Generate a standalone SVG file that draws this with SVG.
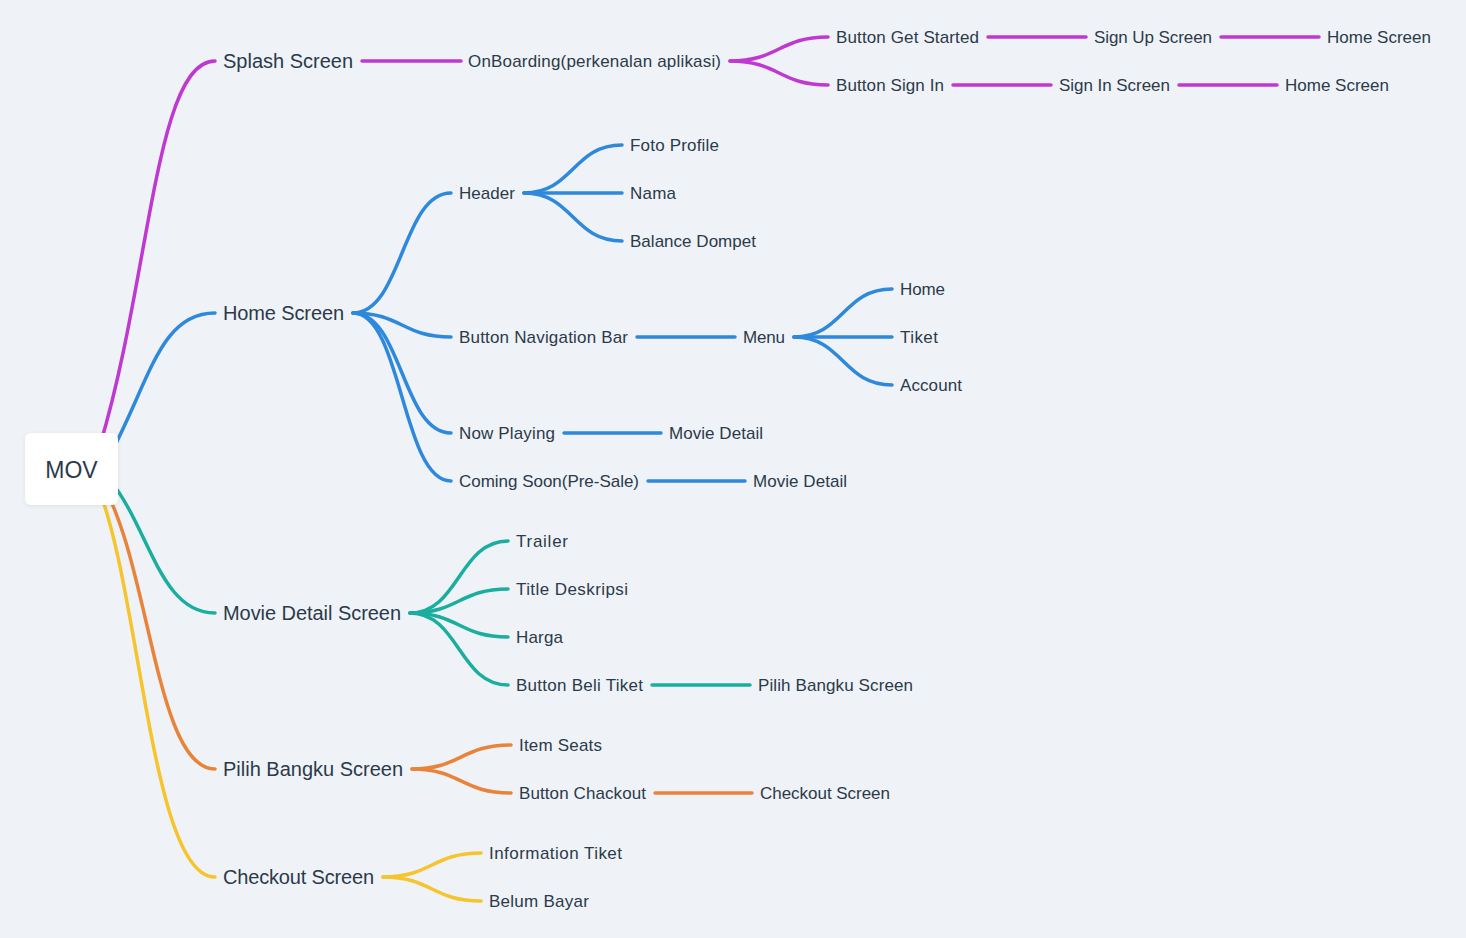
<svg xmlns="http://www.w3.org/2000/svg" width="1466" height="938" viewBox="0 0 1466 938">
<defs>
<filter id="sh" x="-20%" y="-20%" width="140%" height="140%"><feDropShadow dx="0" dy="1" stdDeviation="2" flood-color="#000" flood-opacity="0.08"/></filter>
<style>
.c{fill:none;stroke-width:3.5;stroke-linecap:round}
.p{stroke:#c038d2}.b{stroke:#2e89dc}.t{stroke:#1aae9f}.o{stroke:#ea833a}.y{stroke:#f6c42c}
text{font-family:"Liberation Sans",Arial,sans-serif;fill:#2c3a4a}
.m{font-size:20px}.s{font-size:17px}
</style>
</defs>
<rect width="1466" height="938" fill="#eff3f7"/>
<g id="connectors">
<path class="c p" d="M100,445 C150,280 155,61 215,61"/>
<path class="c b" d="M110,455 C150,380 160,313 215,313"/>
<path class="c t" d="M110,480 C150,530 160,613 215,613"/>
<path class="c o" d="M100,480 C150,560 155,769 215,769"/>
<path class="c y" d="M95,480 C140,580 150,877 215,877"/>
<path class="c p" d="M362,61 H461"/>
<path class="c p" d="M730,61 C779,61 779,37 828,37"/>
<path class="c p" d="M730,61 C779,61 779,85 828,85"/>
<path class="c p" d="M988,37 H1086"/>
<path class="c p" d="M1221,37 H1319"/>
<path class="c p" d="M953,85 H1051"/>
<path class="c p" d="M1179,85 H1277"/>
<path class="c b" d="M353,313 C402,313 402,193 451,193"/>
<path class="c b" d="M353,313 C402,313 402,337 451,337"/>
<path class="c b" d="M353,313 C402,313 402,433 451,433"/>
<path class="c b" d="M353,313 C402,313 402,481 451,481"/>
<path class="c b" d="M524,193 C573,193 573,145 622,145"/>
<path class="c b" d="M524,193 H622"/>
<path class="c b" d="M524,193 C573,193 573,241 622,241"/>
<path class="c b" d="M637,337 H735"/>
<path class="c b" d="M794,337 C843,337 843,289 892,289"/>
<path class="c b" d="M794,337 H892"/>
<path class="c b" d="M794,337 C843,337 843,385 892,385"/>
<path class="c b" d="M564,433 H661"/>
<path class="c b" d="M648,481 H745"/>
<path class="c t" d="M410,613 C459,613 459,541 508,541"/>
<path class="c t" d="M410,613 C459,613 459,589 508,589"/>
<path class="c t" d="M410,613 C459,613 459,637 508,637"/>
<path class="c t" d="M410,613 C459,613 459,685 508,685"/>
<path class="c t" d="M652,685 H750"/>
<path class="c o" d="M412,769 C461,769 461,745 511,745"/>
<path class="c o" d="M412,769 C461,769 461,793 511,793"/>
<path class="c o" d="M655,793 H752"/>
<path class="c y" d="M383,877 C432,877 432,853 481,853"/>
<path class="c y" d="M383,877 C432,877 432,901 481,901"/>
</g>
<g id="root">
<rect x="25" y="433" width="93" height="72" rx="6" fill="#fff" filter="url(#sh)"/>
<text x="71.5" y="477.5" font-size="23" text-anchor="middle">MOV</text>
</g>
<g id="splash"><text class="m" x="223" y="68" textLength="130">Splash Screen</text></g>
<g id="onboarding"><text class="s" x="468" y="67" textLength="253">OnBoarding(perkenalan aplikasi)</text></g>
<g id="btn-get-started"><text class="s" x="836" y="43" textLength="143">Button Get Started</text></g>
<g id="signup"><text class="s" x="1094" y="43" textLength="118">Sign Up Screen</text></g>
<g id="home1"><text class="s" x="1327" y="43" textLength="104">Home Screen</text></g>
<g id="btn-sign-in"><text class="s" x="836" y="91" textLength="108">Button Sign In</text></g>
<g id="signin"><text class="s" x="1059" y="91" textLength="111">Sign In Screen</text></g>
<g id="home2"><text class="s" x="1285" y="91" textLength="104">Home Screen</text></g>
<g id="home"><text class="m" x="223" y="320" textLength="121">Home Screen</text></g>
<g id="header"><text class="s" x="459" y="199" textLength="56">Header</text></g>
<g id="foto"><text class="s" x="630" y="151" textLength="89">Foto Profile</text></g>
<g id="nama"><text class="s" x="630" y="199" textLength="46">Nama</text></g>
<g id="balance"><text class="s" x="630" y="247" textLength="126">Balance Dompet</text></g>
<g id="navbar"><text class="s" x="459" y="343" textLength="169">Button Navigation Bar</text></g>
<g id="menu"><text class="s" x="743" y="343" textLength="42">Menu</text></g>
<g id="menu-home"><text class="s" x="900" y="295" textLength="45">Home</text></g>
<g id="menu-tiket"><text class="s" x="900" y="343" textLength="38">Tiket</text></g>
<g id="menu-account"><text class="s" x="900" y="391" textLength="62">Account</text></g>
<g id="now-playing"><text class="s" x="459" y="439" textLength="96">Now Playing</text></g>
<g id="movie-detail1"><text class="s" x="669" y="439" textLength="94">Movie Detail</text></g>
<g id="coming-soon"><text class="s" x="459" y="487" textLength="180">Coming Soon(Pre-Sale)</text></g>
<g id="movie-detail2"><text class="s" x="753" y="487" textLength="94">Movie Detail</text></g>
<g id="movie-detail-screen"><text class="m" x="223" y="620" textLength="178">Movie Detail Screen</text></g>
<g id="trailer"><text class="s" x="516" y="547" textLength="52">Trailer</text></g>
<g id="title"><text class="s" x="516" y="595" textLength="112">Title Deskripsi</text></g>
<g id="harga"><text class="s" x="516" y="643" textLength="47">Harga</text></g>
<g id="beli"><text class="s" x="516" y="691" textLength="127">Button Beli Tiket</text></g>
<g id="pilih1"><text class="s" x="758" y="691" textLength="155">Pilih Bangku Screen</text></g>
<g id="pilih"><text class="m" x="223" y="776" textLength="180">Pilih Bangku Screen</text></g>
<g id="seats"><text class="s" x="519" y="751" textLength="83">Item Seats</text></g>
<g id="chackout"><text class="s" x="519" y="799" textLength="127">Button Chackout</text></g>
<g id="checkout1"><text class="s" x="760" y="799" textLength="130">Checkout Screen</text></g>
<g id="checkout"><text class="m" x="223" y="884" textLength="151">Checkout Screen</text></g>
<g id="info"><text class="s" x="489" y="859" textLength="133">Information Tiket</text></g>
<g id="belum"><text class="s" x="489" y="907" textLength="100">Belum Bayar</text></g>
</svg>
